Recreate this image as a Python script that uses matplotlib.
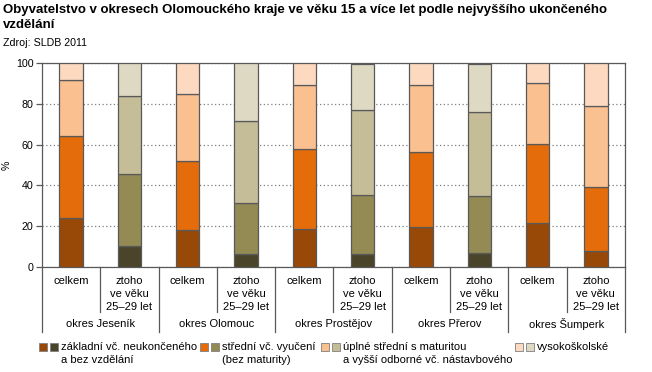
import matplotlib
matplotlib.use("Agg")
import matplotlib.pyplot as plt
from matplotlib.patches import Rectangle
import numpy as np

plt.rcParams["font.family"] = ["Liberation Sans", "DejaVu Sans"]

# districts and the two bars shown for each
districts = ["okres Jeseník", "okres Olomouc", "okres Prostějov", "okres Přerov", "okres Šumperk"]
bar_labels = ["celkem", "ztoho\nve věku\n25–29 let"]

# shares in % per education level, bars ordered: celkem, 25-29 for each district
zakladni = [23.9, 10.1, 18.2, 6.2, 18.7, 6.2, 19.5, 6.7, 21.4, 7.7]
stredni = [40.4, 35.6, 33.7, 25.1, 39.1, 29.0, 36.8, 28.0, 38.8, 31.4]
uplne = [27.4, 38.1, 32.9, 40.2, 31.4, 41.7, 32.9, 41.2, 30.0, 39.8]
vysoko = [8.3, 16.0, 15.2, 28.3, 10.8, 22.8, 10.8, 23.8, 9.8, 21.1]

levels = ["základní vč. neukončeného\na bez vzdělání",
          "střední vč. vyučení\n(bez maturity)",
          "úplné střední s maturitou\na vyšší odborné vč. nástavbového",
          "vysokoškolské"]

title_lines = ["Obyvatelstvo v okresech Olomouckého kraje ve věku 15 a více let podle nejvyššího ukončeného",
               "vzdělání"]

# colours: orange shades and olive shades; palette used by each bar
col_orange = ["#984807", "#E46C0A", "#FAC090", "#FCD9BF"]
col_olive = ["#4A452A", "#948A54", "#C4BD97", "#DDD9C3"]
bar_palette = ["o", "g", "o", "g", "o", "g", "o", "g", "o", "o"]

W, H = 652, 372
fig = plt.figure(figsize=(W / 100, H / 100), dpi=100)
ax = fig.add_axes([42 / W, 1 - 267 / H, (625 - 42) / W, (267 - 63) / H])

edge = "#595959"
x = np.arange(len(zakladni))
series = [zakladni, stredni, uplne, vysoko]
bottom = np.zeros(len(x))
for k, vals in enumerate(series):
    vals = np.array(vals)
    colors = [col_orange[k] if p == "o" else col_olive[k] for p in bar_palette]
    ax.bar(x, vals, width=0.4, bottom=bottom, color=colors,
           edgecolor=edge, linewidth=0.9, zorder=3)
    bottom += vals

ax.set_xlim(-0.5, len(x) - 0.5)
ax.set_ylim(0, 100)
ax.set_yticks(np.arange(0, 101, 20))
ax.tick_params(axis="y", labelsize=7.7, length=4, width=0.9, color=edge, pad=2)
ax.tick_params(axis="x", length=0, labelbottom=False)
ax.yaxis.grid(True, linestyle=(0, (1, 2)), color="#7f7f7f", linewidth=0.9)
ax.set_axisbelow(True)
for s in ax.spines.values():
    s.set_color(edge)
    s.set_linewidth(0.9)
ax.set_ylabel("%", fontsize=7.7, labelpad=3)

# category labels and separators under the axis
tr = ax.get_xaxis_transform()
axh = 267 - 63
for i in x:
    ax.text(i, -9 / axh, bar_labels[i % 2], transform=tr, ha="center", va="top",
            fontsize=8, linespacing=1.35)
for b in np.arange(-0.5, len(x), 1.0):
    depth = 65 if int(b + 0.5) % 2 == 0 else 45
    ax.plot([b, b], [0, -depth / axh], transform=tr, color=edge,
            linewidth=0.9, clip_on=False)
for g, name in enumerate(districts):
    ax.text(2 * g + 0.5, -57 / axh, name, transform=tr, ha="center", va="center",
            fontsize=8)

# title (two lines) and source
for n, line in enumerate(title_lines):
    fig.text(3 / W, 1 - (13 + 15.5 * n) / H, line, ha="left", va="baseline",
             fontsize=9.5, fontweight="bold")
fig.text(3 / W, 1 - 46 / H, "Zdroj: SLDB 2011", ha="left", va="baseline", fontsize=7.7)

# legend with paired swatches
leg_x = [39, 200, 321, 515]
for k, lab in enumerate(levels):
    x0 = leg_x[k]
    for j, c in enumerate([col_orange[k], col_olive[k]]):
        fig.patches.append(Rectangle(((x0 + j * 11) / W, 1 - 351 / H), 8 / W, 8 / H,
                                     transform=fig.transFigure, facecolor=c,
                                     edgecolor="#7f7f7f", linewidth=0.6))
    fig.text((x0 + 22) / W, 1 - 342 / H, lab, ha="left", va="top",
             fontsize=8, linespacing=1.35)

fig.savefig("out.png", dpi=100)
